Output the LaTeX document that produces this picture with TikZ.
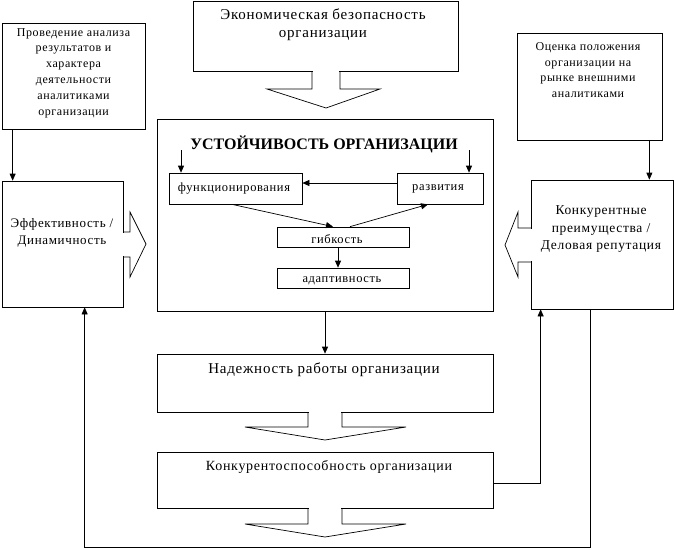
\documentclass[tikz,border=0pt]{standalone}
\usepackage{fontspec}
\setmainfont{Liberation Serif}[LetterSpace=5]
\newfontfamily\titlefont{Liberation Serif}
\usetikzlibrary{arrows.meta}
\tikzset{
  box/.style={draw, line width=0.7pt, inner sep=0pt, fill=white},
  arr/.style={line width=0.7pt, -{Triangle[length=7pt,width=6pt]}},
  big/.style={font=\fontsize{15}{18}\selectfont, align=center, inner sep=0pt},
  mid/.style={font=\fontsize{13}{16.5}\selectfont, align=center, inner sep=0pt},
  sml/.style={font=\fontsize{12}{15.8}\selectfont, align=center, inner sep=0pt},
  inb/.style={font=\fontsize{12.5}{14}\selectfont, align=center, inner sep=0pt},
  blk/.style={line width=0.7pt, line join=miter}
}
\begin{document}
\begin{tikzpicture}[x=1pt,y=-1pt]
\useasboundingbox (0,0) rectangle (674,549);
% boxes
\node[box, minimum width=143pt, minimum height=106pt] (prov) at (73.5,76) {};
\node[box, minimum width=121pt, minimum height=126pt] (eff) at (62.5,244) {};
\node[box, minimum width=265pt, minimum height=70pt] (econ) at (325.5,36) {};
\node[box, minimum width=336pt, minimum height=192pt] (main) at (325,215) {};
\node[box, minimum width=133pt, minimum height=31pt] (funk) at (235.5,188.5) {};
\node[box, minimum width=86pt, minimum height=31pt] (razv) at (440,188.5) {};
\node[box, minimum width=132pt, minimum height=20pt] (gib) at (343,237) {};
\node[box, minimum width=132pt, minimum height=20pt] (adapt) at (343,278) {};
\node[box, minimum width=145pt, minimum height=107pt] (otsen) at (589.5,86.5) {};
\node[box, minimum width=142pt, minimum height=129pt] (konk) at (602,244.5) {};
\node[box, minimum width=336pt, minimum height=58pt] (nadezh) at (325,383) {};
\node[box, minimum width=336pt, minimum height=56pt] (konksp) at (325,480) {};
% texts
\node[sml] (provT) at (73.5,73) {Проведение анализа\\результатов и\\характера\\деятельности\\аналитиками\\организации};
\node[mid] (effT) at (62,233) {Эффективность /\\Динамичность};
\node[big] (econT) at (323,25) {Экономическая безопасность\\организации};
\node[font=\titlefont\bfseries\fontsize{16}{18}\selectfont, inner sep=0pt, anchor=base] (mainT) at (324,149) {УСТОЙЧИВОСТЬ ОРГАНИЗАЦИИ};
\node[inb] (funkT) at (234,188.5) {функционирования};
\node[inb] (razvT) at (438,188.5) {развития};
\node[inb] (gibT) at (337,239) {гибкость};
\node[inb] (adaptT) at (342,281) {адаптивность};
\node[sml] (otsenT) at (588,70) {Оценка положения\\организации на\\рынке внешними\\аналитиками};
\node[font=\fontsize{13.5}{17.5}\selectfont, align=center, inner sep=0pt] (konkT) at (601,229.5) {Конкурентные\\преимущества /\\Деловая репутация};
\node[big] (nadezhT) at (324,370) {Надежность работы организации};
\node[font=\fontsize{14}{18}\selectfont, inner sep=0pt] (konkspT) at (329,467) {Конкурентоспособность организации};
% block arrows
\fill[white] (312.6,70.4) rectangle (339.4,72);
\draw[blk] (312,71) -- (312,89) -- (267,89) -- (326,108) -- (380,89) -- (340,89) -- (340,71);
\fill[white] (308.6,411.4) rectangle (341.4,413);
\draw[blk] (308,412) -- (308,427) -- (245,427) -- (325,440) -- (406,427) -- (342,427) -- (342,412);
\fill[white] (308.6,507.4) rectangle (341.4,509);
\draw[blk] (308,508) -- (308,524) -- (245,524) -- (325,537) -- (406,524) -- (342,524) -- (342,508);
\fill[white] (122.4,232.6) rectangle (124,256.4);
\draw[blk] (123,232) -- (130,232) -- (130,212) -- (146,244) -- (130,277) -- (130,257) -- (123,257);
\fill[white] (530,228.6) rectangle (531.6,261.4);
\draw[blk] (531,228) -- (518,228) -- (518,212) -- (505,245) -- (518,277) -- (518,262) -- (531,262);
% connectors
\coordinate (s1) at (181,150);
\coordinate (s2) at (469,150);
\coordinate (fb) at (0,547);
\draw[arr] ([xshift=11pt]prov.south west) -- ([xshift=11pt]eff.north west);
\draw[arr] ([xshift=-13pt]otsen.south east) -- ([xshift=-13pt]otsen.south east |- konk.north);
\draw[arr] (s1) -- (s1 |- funk.north);
\draw[arr] (s2) -- (s2 |- razv.north);
\draw[arr] ([yshift=5.5pt]razv.west) -- ([yshift=5.5pt]razv.west -| funk.east);
\draw[arr] ([xshift=-3.5pt]funk.south) -- ([xshift=-10pt]gib.north);
\draw[arr] ([xshift=7pt]gib.north) -- ([xshift=-12pt]razv.south);
\draw[arr] ([xshift=-5pt]gib.south) -- ([xshift=-5pt]adapt.north);
\draw[arr] (main.south) -- (nadezh.north);
\draw[arr] ([yshift=-3pt]konksp.east) -| ([xshift=10pt]konk.south west);
\draw[arr] ([xshift=-12pt]konk.south) -- ([xshift=-12pt]konk.south |- fb) -| ([xshift=83pt]eff.south west);
\end{tikzpicture}
\end{document}
